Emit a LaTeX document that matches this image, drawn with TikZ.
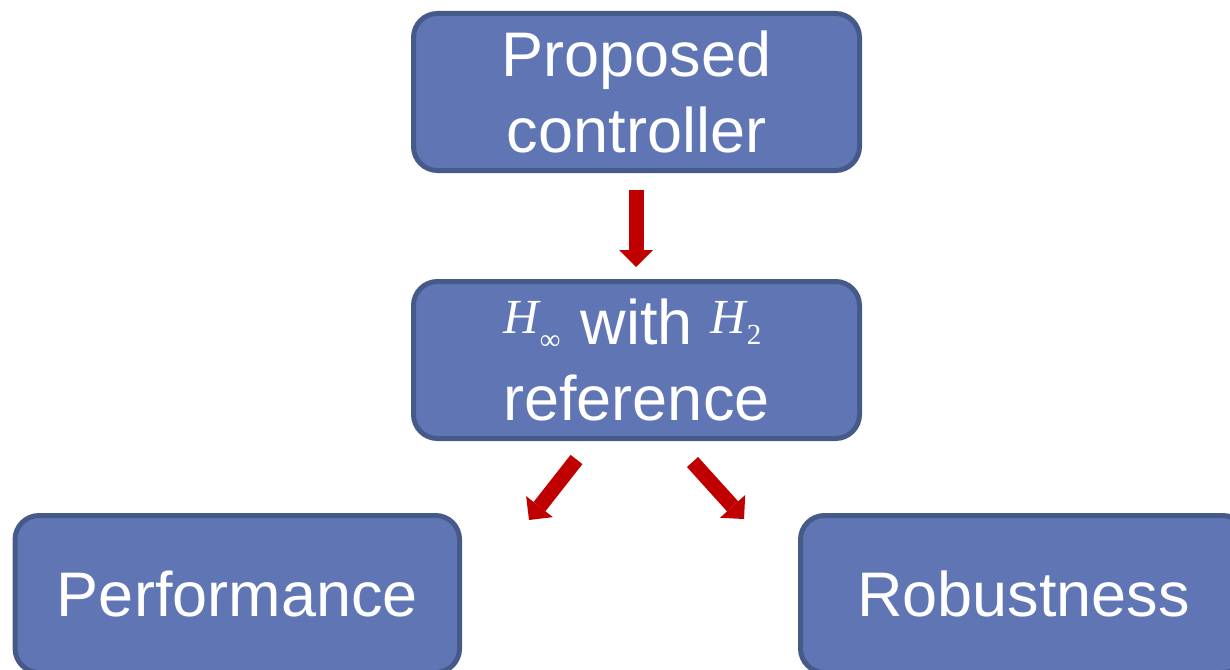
\documentclass[tikz,border=0pt]{standalone}
\usepackage{fontspec}
\setmainfont{Liberation Sans}
\newfontfamily\tnr{Liberation Serif}
\usetikzlibrary{arrows.meta}
\definecolor{boxfill}{HTML}{6076B4}
\definecolor{boxline}{HTML}{465A8A}
\definecolor{arrred}{HTML}{C00000}
\newcommand\HSym[2]{{\tnr\raisebox{11pt}{\fontsize{49}{49}\selectfont\itshape H}\kern1pt\raisebox{#2}{\fontsize{29}{29}\selectfont #1}}}
\begin{document}
\begin{tikzpicture}[x=1pt,y=-1pt,
  blockbox/.style={draw=boxline, fill=boxfill, line width=5pt, rounded corners=24pt,
    minimum width=446pt, minimum height=157pt, inner sep=0pt, text=white,
    font=\fontsize{63}{76}\selectfont, align=center},
  bigarrow/.style={draw=arrred, line width=15pt,
    -{Triangle[length=17pt,width=34pt,line width=0pt]}}]
\useasboundingbox (0,0) rectangle (1230,669);
\clip (0,0) rectangle (1230,669);
\node[blockbox] (prop) at (636.5,92) {Proposed\\controller};
\node[blockbox] (hinf) at (636.5,360) {\hspace{-8pt}\HSym{∞}{-5pt}\hspace{20pt}with\hspace{18pt}\HSym{2}{0pt}\\reference};
\node[blockbox, minimum width=444.5pt] (perf) at (237.3,594) {Performance};
\node[blockbox] (rob) at (1023.5,594) {Robustness};
\coordinate (a1s) at (636,190);
\coordinate (a1e) at (636,267);
\coordinate (a2s) at (576.5,459.5);
\coordinate (a2e) at (529,520);
\coordinate (a3s) at (692.5,462);
\coordinate (a3e) at (744,519);
\draw[bigarrow] (a1s) -- (a1e);
\draw[bigarrow] (a2s) -- (a2e);
\draw[bigarrow] (a3s) -- (a3e);
\end{tikzpicture}
\end{document}
